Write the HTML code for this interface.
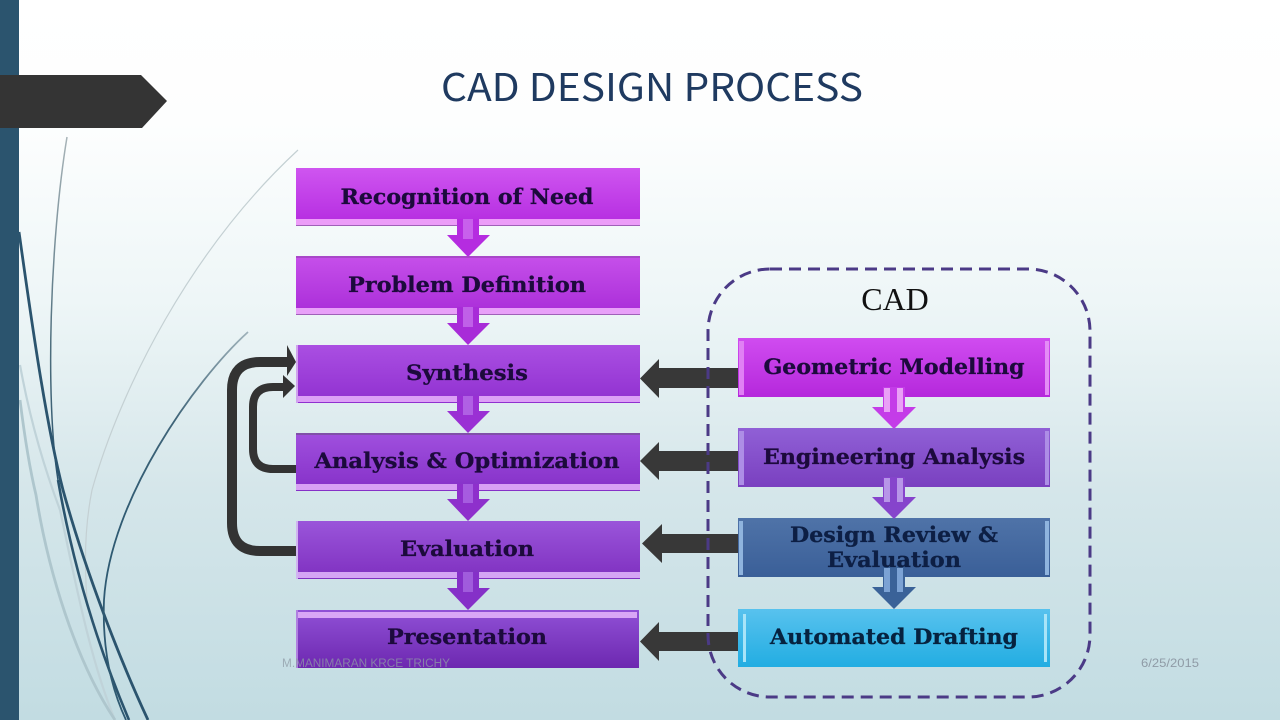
<!DOCTYPE html>
<html><head><meta charset="utf-8"><style>
html,body{margin:0;padding:0;width:1280px;height:720px;overflow:hidden;background:#fff}
svg{display:block;filter:blur(.35px)}
.t{font-family:"DejaVu Serif","Liberation Serif",serif;font-weight:bold;font-size:21px;fill:#1c0a3c;text-anchor:middle;stroke:#1c0a3c;stroke-width:.3}
</style></head><body>
<svg width="1280" height="720" viewBox="0 0 1280 720" xmlns="http://www.w3.org/2000/svg">
<defs>
<linearGradient id="bg" x1="0" y1="0" x2="0" y2="1"><stop offset="0" stop-color="#fff"/><stop offset=".17" stop-color="#fdfefe"/><stop offset=".417" stop-color="#eef6f7"/><stop offset=".68" stop-color="#d5e6ea"/><stop offset="1" stop-color="#c2dce2"/></linearGradient>
<linearGradient id="s2" gradientUnits="userSpaceOnUse" x1="0" y1="137" x2="0" y2="480"><stop offset="0" stop-color="#a8b4b8"/><stop offset=".6" stop-color="#4f6f7e"/><stop offset="1" stop-color="#2b546e"/></linearGradient>
<linearGradient id="s3" gradientUnits="userSpaceOnUse" x1="248" y1="332" x2="120" y2="520"><stop offset="0" stop-color="#9fb2ba"/><stop offset=".5" stop-color="#3f6478"/><stop offset="1" stop-color="#2f5a72"/></linearGradient>
<linearGradient id="g1" x1="0" y1="0" x2="0" y2="1"><stop offset="0" stop-color="#cf55f0"/><stop offset="1" stop-color="#b42be0"/></linearGradient>
<linearGradient id="g2" x1="0" y1="0" x2="0" y2="1"><stop offset="0" stop-color="#c650ea"/><stop offset="1" stop-color="#a92cd8"/></linearGradient>
<linearGradient id="g3" x1="0" y1="0" x2="0" y2="1"><stop offset="0" stop-color="#aa4fe2"/><stop offset="1" stop-color="#9030d0"/></linearGradient>
<linearGradient id="g4" x1="0" y1="0" x2="0" y2="1"><stop offset="0" stop-color="#a050de"/><stop offset="1" stop-color="#8530c8"/></linearGradient>
<linearGradient id="g5" x1="0" y1="0" x2="0" y2="1"><stop offset="0" stop-color="#9a55da"/><stop offset="1" stop-color="#7f30c0"/></linearGradient>
<linearGradient id="g6" x1="0" y1="0" x2="0" y2="1"><stop offset="0" stop-color="#9050d6"/><stop offset="1" stop-color="#6d28b0"/></linearGradient>
<linearGradient id="r1" x1="0" y1="0" x2="0" y2="1"><stop offset="0" stop-color="#d04cf0"/><stop offset="1" stop-color="#b528dc"/></linearGradient>
<linearGradient id="r2" x1="0" y1="0" x2="0" y2="1"><stop offset="0" stop-color="#9060d6"/><stop offset="1" stop-color="#7a40c0"/></linearGradient>
<linearGradient id="r3" x1="0" y1="0" x2="0" y2="1"><stop offset="0" stop-color="#4f73a8"/><stop offset="1" stop-color="#3a5f98"/></linearGradient>
<linearGradient id="r4" x1="0" y1="0" x2="0" y2="1"><stop offset="0" stop-color="#58c2ee"/><stop offset="1" stop-color="#22ade2"/></linearGradient>
</defs>
<rect width="1280" height="720" fill="url(#bg)"/>

<!-- decorative strands -->
<g fill="none">
<path d="M298 150C190 250 120 390 92 490C84 530 84 570 88 610" stroke="#c4d0d3" stroke-width="1.2"/>
<path d="M20 365C30 420 45 470 60 510C75 580 90 660 115 720" stroke="#c0d3d9" stroke-width="2.2"/>
<path d="M20 400C25 440 30 470 36 495C48 570 75 660 115 720" stroke="#aec6cd" stroke-width="2.8"/>
<path d="M67 137C50 240 45 400 58 480" stroke="url(#s2)" stroke-width="1.5"/>
<path d="M58 480C72 560 95 640 129 720" stroke="#2b546e" stroke-width="2.6"/>
<path d="M19 232C30 310 45 420 63 490C85 570 120 660 148 720" stroke="#2b546e" stroke-width="2.8"/>
<path d="M248 332C195 380 110 500 104 600C102 650 112 690 126 720" stroke="url(#s3)" stroke-width="1.8"/>
</g>
<rect x="0" y="0" width="19" height="720" fill="#2b546e"/>
<polygon points="0,75 141,75 167,101 142,128 0,128" fill="#343434"/>

<text x="652" y="101" font-family="Noto Sans CJK SC,Liberation Sans,sans-serif" font-size="38" fill="#1f3a60" text-anchor="middle" textLength="422" lengthAdjust="spacingAndGlyphs">CAD DESIGN PROCESS</text>

<text x="895" y="310" font-family="Liberation Serif,serif" font-size="32" fill="#111" text-anchor="middle">CAD</text>

<!-- feedback arrows -->
<g fill="none" stroke="#333" stroke-linejoin="round">
<path d="M296 551H260Q232 551 232 523V390Q232 362 260 362H288" stroke-width="10"/>
<path d="M296 469H273Q253 469 253 449V407Q253 387 273 387H285" stroke-width="8"/>
</g>
<polygon points="287,345 296,362 287,376" fill="#333"/>
<polygon points="283,375 295,386 283,398" fill="#333"/>

<!-- left column boxes -->
<g>
<rect x="296" y="168" width="344" height="58" fill="url(#g1)"/><rect x="296" y="219" width="344" height="6" fill="#ec9cf8"/><rect x="296" y="225" width="344" height="1" fill="#a060b8"/>
<rect x="296" y="256" width="344" height="59" fill="url(#g2)"/><rect x="296" y="308" width="344" height="6" fill="#e8a0f8"/><rect x="296" y="256" width="344" height="2" fill="#a848c8"/><rect x="296" y="314" width="344" height="1" fill="#a060b8"/>
<rect x="296" y="345" width="344" height="58" fill="url(#g3)"/><rect x="296" y="396" width="344" height="6" fill="#dca0f6"/><rect x="296" y="345" width="2" height="58" fill="#d0a4ee"/>
<rect x="296" y="433" width="344" height="58" fill="url(#g4)"/><rect x="296" y="484" width="344" height="6" fill="#d8a0f4"/><rect x="296" y="433" width="344" height="2" fill="#8050a8"/>
<rect x="296" y="521" width="344" height="58" fill="url(#g5)"/><rect x="296" y="572" width="344" height="6" fill="#d4a4f4"/><rect x="296" y="521" width="2" height="58" fill="#d0b4f0"/>
<rect x="296" y="610" width="343" height="58" fill="url(#g6)"/><rect x="298" y="612" width="339" height="6" fill="#d9a6f6"/><rect x="296" y="610" width="2" height="58" fill="#b080e0"/>
</g>

<!-- left column down arrows -->
<g>
<path d="M457 219H479V235H490L468 257L447 235H457Z" fill="#b52ce0"/><rect x="463" y="219" width="10" height="20" fill="#c860ec"/>
<path d="M457 307H479V323H490L468 345L447 323H457Z" fill="#a82cd8"/><rect x="463" y="307" width="10" height="20" fill="#c060e8"/>
<path d="M457 396H479V411H490L468 433L447 411H457Z" fill="#9a30d4"/><rect x="463" y="396" width="10" height="19" fill="#b060e4"/>
<path d="M457 484H479V499H490L468 521L447 499H457Z" fill="#8e30cc"/><rect x="463" y="484" width="10" height="19" fill="#a65ce0"/>
<path d="M457 572H479V588H490L468 610L447 588H457Z" fill="#8530c8"/><rect x="463" y="572" width="10" height="20" fill="#a05cdc"/>
</g>

<!-- connecting block arrows -->
<g fill="#383838">
<path d="M739 368V388H659V398L640 378.500L659 359V368Z"/>
<path d="M739 451V471H659V480L640 461L659 442V451Z"/>
<path d="M739 534V553H662V563L642 543.500L662 524V534Z"/>
<path d="M739 632V651H659V661L640 641.500L659 622V632Z"/>
</g>

<!-- dashed CAD container -->
<rect x="708" y="269" width="382" height="428" rx="62" ry="62" fill="none" stroke="#4b3a86" stroke-width="3" stroke-dasharray="12 7"/>

<!-- right column boxes -->
<rect x="738" y="338" width="312" height="59" fill="url(#r1)"/><rect x="739" y="341" width="5" height="54" fill="#e080f4"/><rect x="1045" y="341" width="4" height="54" fill="#e48cf6"/>
<rect x="738" y="428" width="312" height="59" fill="url(#r2)"/><rect x="739" y="431" width="5" height="54" fill="#ad8ee6"/><rect x="1045" y="431" width="4" height="54" fill="#ad8ee6"/>
<rect x="738" y="518" width="312" height="59" fill="url(#r3)"/><rect x="739" y="521" width="4" height="54" fill="#8fb4de"/><rect x="1045" y="521" width="4" height="54" fill="#8fb4de"/>
<rect x="738" y="609" width="312" height="58" fill="url(#r4)"/><rect x="743" y="614" width="3" height="48" fill="#a8e4f8"/><rect x="1044" y="614" width="3" height="48" fill="#a8e4f8"/>

<!-- right column down arrows -->
<path d="M883 387H905V407H916L894 429L872 407H883Z" fill="#c43ce8"/><rect x="884" y="388" width="6" height="24" fill="#e9a0f6"/><rect x="897" y="388" width="6" height="24" fill="#e9a0f6"/>
<path d="M883 477H905V497H916L894 519L872 497H883Z" fill="#8644cc"/><rect x="884" y="478" width="6" height="24" fill="#b795e8"/><rect x="897" y="478" width="6" height="24" fill="#b795e8"/>
<path d="M883 567H905V587H916L894 609L872 587H883Z" fill="#3a6298"/><rect x="884" y="568" width="6" height="24" fill="#7ba2d4"/><rect x="897" y="568" width="6" height="24" fill="#7ba2d4"/>

<!-- labels -->
<text class="t" x="467" y="204" textLength="253" lengthAdjust="spacingAndGlyphs">Recognition of Need</text>
<text class="t" x="467" y="292" textLength="238" lengthAdjust="spacingAndGlyphs">Problem Definition</text>
<text class="t" x="467" y="380" textLength="122" lengthAdjust="spacingAndGlyphs">Synthesis</text>
<text class="t" x="467" y="468" textLength="305" lengthAdjust="spacingAndGlyphs">Analysis &amp; Optimization</text>
<text class="t" x="467" y="556" textLength="134" lengthAdjust="spacingAndGlyphs">Evaluation</text>
<text class="t" x="467" y="644" textLength="160" lengthAdjust="spacingAndGlyphs">Presentation</text>
<text class="t" x="894" y="374" textLength="261" lengthAdjust="spacingAndGlyphs">Geometric Modelling</text>
<text class="t" x="894" y="464" textLength="262" lengthAdjust="spacingAndGlyphs">Engineering Analysis</text>
<text class="t" x="894" y="542" textLength="208" lengthAdjust="spacingAndGlyphs" style="fill:#0d1f44;stroke:#0d1f44">Design Review &amp;</text>
<text class="t" x="894" y="567" textLength="134" lengthAdjust="spacingAndGlyphs" style="fill:#0d1f44;stroke:#0d1f44">Evaluation</text>
<text class="t" x="894" y="644" textLength="248" lengthAdjust="spacingAndGlyphs" style="fill:#06223f;stroke:#06223f">Automated Drafting</text>

<text x="366" y="667" font-family="Liberation Sans,sans-serif" font-size="11.5" fill="#8f9ba6" opacity=".75" text-anchor="middle" textLength="168" lengthAdjust="spacingAndGlyphs">M.MANIMARAN KRCE TRICHY</text>
<text x="1170" y="667" font-family="Liberation Sans,sans-serif" font-size="12" fill="#8f9ba6" text-anchor="middle" textLength="58" lengthAdjust="spacingAndGlyphs">6/25/2015</text>
</svg>
</body></html>
